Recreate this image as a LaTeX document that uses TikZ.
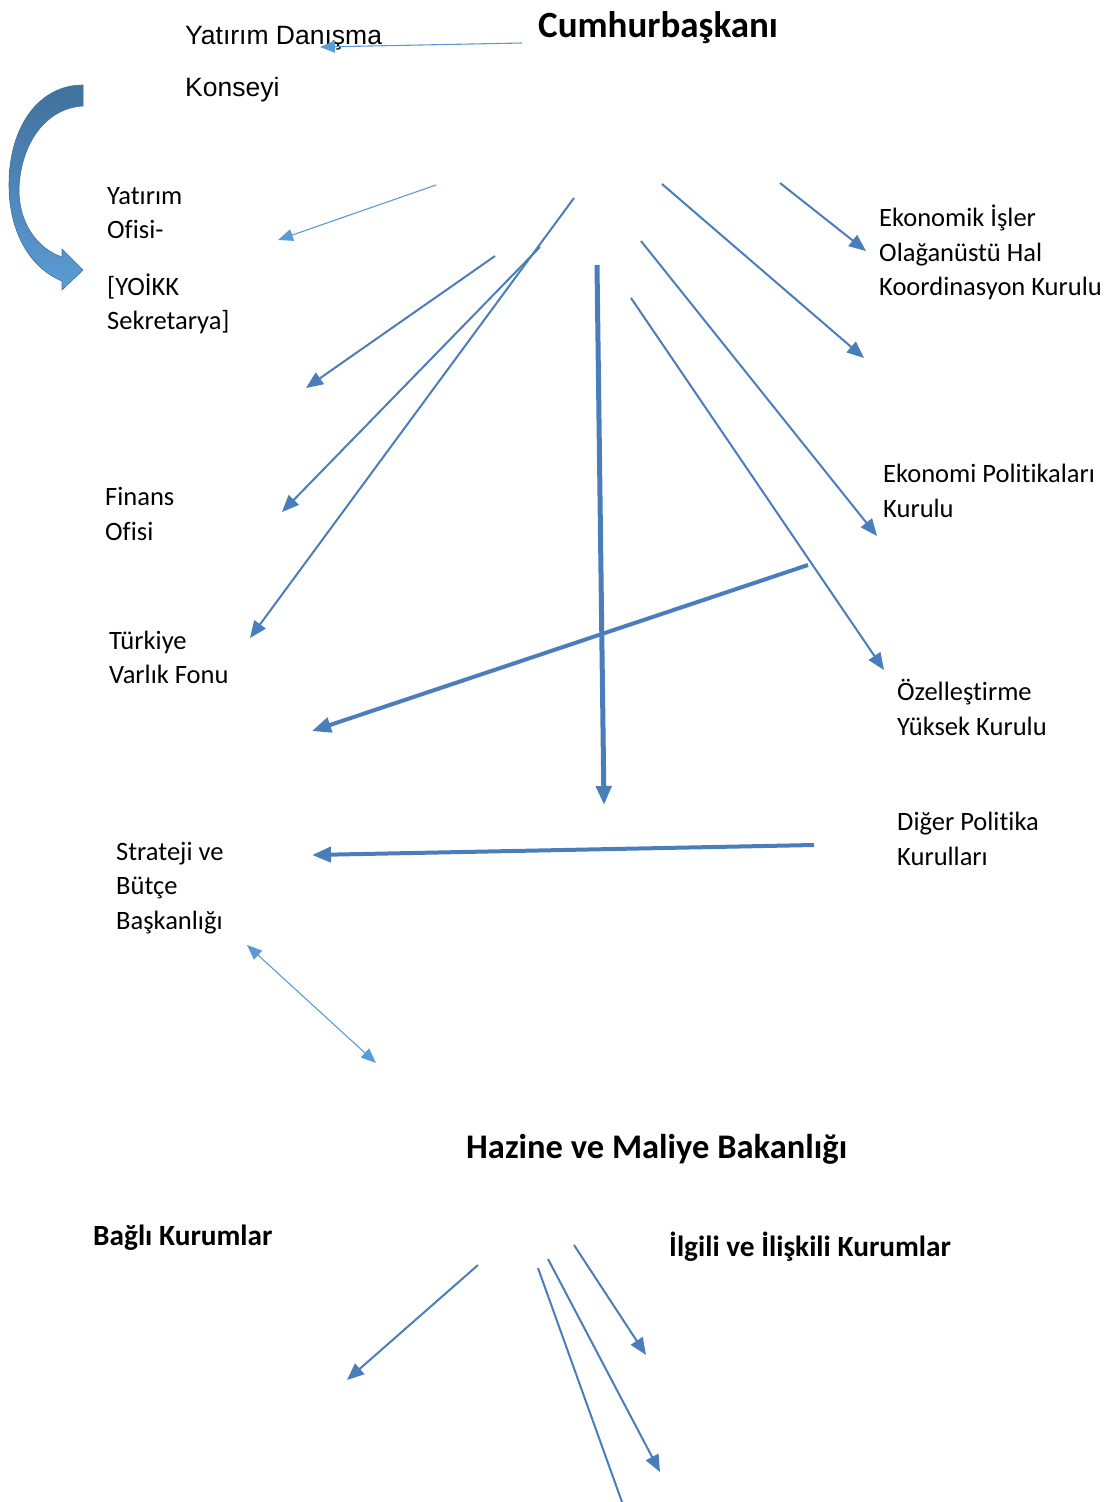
\documentclass[tikz,border=0pt]{standalone}
\usepackage{fontspec}
\setmainfont{Carlito}[Ligatures=NoCommon]
\newfontfamily\arialfont{Liberation Sans}
\usetikzlibrary{arrows.meta}

\definecolor{lightblue}{RGB}{91,155,213}
\definecolor{midblue}{RGB}{74,126,187}
\definecolor{darkblue}{RGB}{65,113,156}

\begin{document}
\begin{tikzpicture}[x=1pt,y=-1pt]
\tikzstyle{unit}=[anchor=west,inner sep=0pt,align=left,font=\fontsize{26.5}{34.5}\selectfont]
\tikzstyle{headtext}=[anchor=west,inner sep=0pt,font=\fontsize{37}{44}\selectfont\bfseries]
\tikzstyle{grouptext}=[anchor=west,inner sep=0pt,font=\fontsize{29.3}{34}\selectfont\bfseries]
\tikzstyle{feed}=[draw=lightblue,line width=1.1pt,-{Triangle[length=15pt,width=12pt]}]
\tikzstyle{link}=[draw=midblue,line width=2pt,-{Triangle[length=17pt,width=14pt]}]
\tikzstyle{heavy}=[draw=midblue,line width=4pt,-{Triangle[length=19pt,width=15pt]}]
\useasboundingbox (0,0) rectangle (1107,1502);

\node[headtext] (CB) at (538,28) {Cumhurbaşkanı};
\node[unit,font=\arialfont\fontsize{26.5}{52}\selectfont] (YDK) at (185,64) {Yatırım Danışma\\Konseyi};
\node[unit] (YO) at (107,260.5) {Yatırım\\Ofisi-\\[22pt]{[}YOİKK\\Sekretarya]};
\node[unit] (FO) at (105,514) {Finans\\Ofisi};
\node[unit] (TVF) at (109,657.5) {Türkiye\\Varlık Fonu};
\node[unit] (SBB) at (116,888) {Strateji ve\\Bütçe\\Başkanlığı};
\node[unit] (EIK) at (879,252.5) {Ekonomik İşler\\Olağanüstü Hal\\Koordinasyon Kurulu};
\node[unit] (EPK) at (883,491) {Ekonomi Politikaları\\Kurulu};
\node[unit] (OYK) at (897,707.5) {Özelleştirme\\Yüksek Kurulu};
\node[unit] (DPK) at (897,839) {Diğer Politika\\Kurulları};
\node[headtext,font=\fontsize{34.5}{42}\selectfont\bfseries] (HMB) at (466,1149) {Hazine ve Maliye Bakanlığı};
\node[grouptext] (BK) at (93,1238) {Bağlı Kurumlar};
\node[grouptext] (IIK) at (669,1247) {İlgili ve İlişkili Kurumlar};

% arrow ends
\coordinate (a1) at (522,43);   \coordinate (b1) at (320,47);
\coordinate (a2) at (436,185);  \coordinate (b2) at (278,240);
\coordinate (a3) at (495,256);  \coordinate (b3) at (306,388);
\coordinate (a4) at (540,247);  \coordinate (b4) at (282,512);
\coordinate (a5) at (574,198);  \coordinate (b5) at (250,638);
\coordinate (a6) at (597,265);  \coordinate (b6) at (604,805);
\coordinate (a7) at (662,184);  \coordinate (b7) at (864,358);
\coordinate (a8) at (780,183);  \coordinate (b8) at (866,251);
\coordinate (a9) at (641,241);  \coordinate (b9) at (877,536);
\coordinate (a10) at (631,298); \coordinate (b10) at (884,670);
\coordinate (a11) at (808,565); \coordinate (b11) at (312,731);
\coordinate (a12) at (814,845); \coordinate (b12) at (312,855);
\coordinate (a13) at (247,945); \coordinate (b13) at (376,1063);
\coordinate (a14) at (478,1265); \coordinate (b14) at (347,1380);
\coordinate (a15) at (574,1245); \coordinate (b15) at (646,1355);
\coordinate (a16) at (548,1259); \coordinate (b16) at (660,1472);
\coordinate (a17) at (538,1268); \coordinate (b17) at (622,1502);

\draw[feed] (a1) -- (b1);
\draw[feed] (a2) -- (b2);
\draw[link] (a3) -- (b3);
\draw[link] (a4) -- (b4);
\draw[link] (a5) -- (b5);
\draw[heavy,line width=5pt] (a6) -- (b6);
\draw[link] (a7) -- (b7);
\draw[link] (a8) -- (b8);
\draw[link] (a9) -- (b9);
\draw[link] (a10) -- (b10);
\draw[heavy] (a11) -- (b11);
\draw[heavy] (a12) -- (b12);
\draw[feed,{Triangle[length=15pt,width=12pt]}-{Triangle[length=15pt,width=12pt]}] (a13) -- (b13);
\draw[link] (a14) -- (b14);
\draw[link] (a15) -- (b15);
\draw[link] (a16) -- (b16);
\draw[link,-] (a17) -- (b17);

% curved block arrow
\shade[top color=darkblue,bottom color=lightblue,draw=darkblue,line width=0.6pt]
  (83,85) -- (83,106) .. controls (45,108) and (20,145) .. (19,190)
  .. controls (19,222) and (36,248) .. (62,257) -- (62,249) -- (83,270) -- (62,290) -- (62,281)
  .. controls (30,268) and (9,232) .. (9,185) .. controls (9,125) and (40,85) .. (83,85) -- cycle;
\end{tikzpicture}
\end{document}
